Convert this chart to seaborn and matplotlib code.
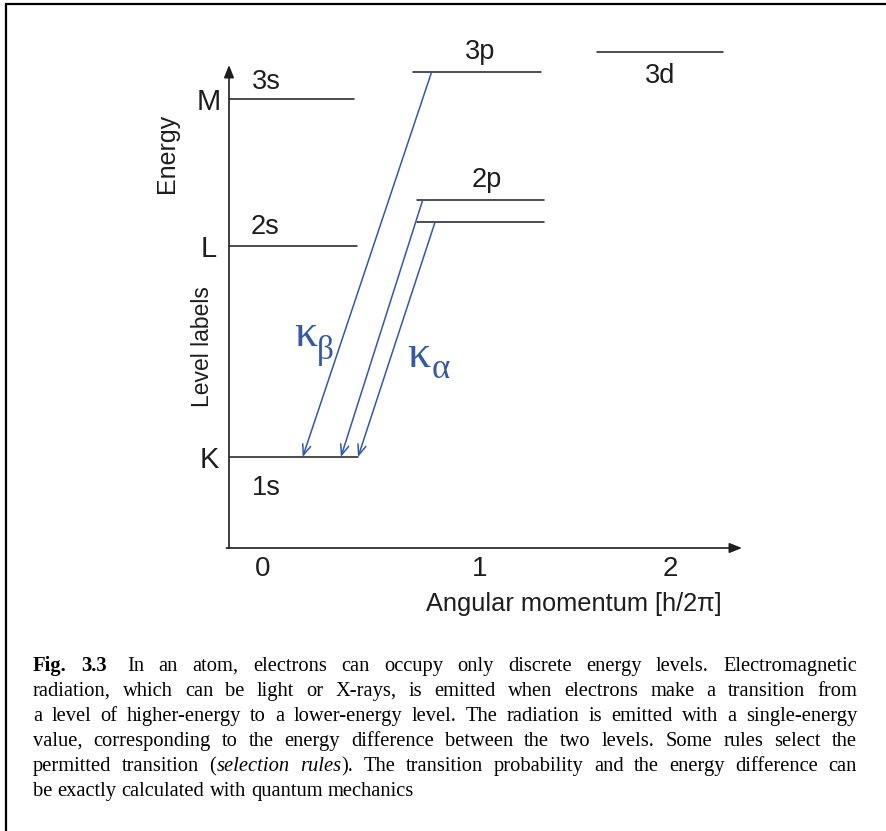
import re
import matplotlib
matplotlib.use("Agg")
import matplotlib.pyplot as plt
import numpy as np
import pandas as pd
import seaborn as sns

# ---- energy levels (angular momentum position, energy in arbitrary units) ----
level_keys = ["1s", "2s", "2p_1/2", "2p_3/2", "3s", "3p", "3d"]
level_energy = [91, 302, 326, 348, 449, 476, 496]
level_l_start = [-0.157, -0.157, 0.708, 0.708, -0.157, 0.691, 1.539]
level_l_end = [0.438, 0.432, 1.295, 1.295, 0.419, 1.281, 2.120]

# level names written next to the lines
level_label_text = ["1s", "2s", "2p", "3s", "3p", "3d"]
level_label_of = ["1s", "2s", "2p_3/2", "3s", "3p", "3d"]

# shells on the energy axis
shell_names = ["K", "L", "M"]
shell_level = ["1s", "2s", "3s"]

# angular momentum ticks
l_tick_labels = ["0", "1", "2"]
l_tick_pos = [0.0, 1.0, 1.876]

# X-ray transitions down to the K shell
trans_from = ["3p", "2p_3/2", "2p_1/2"]
trans_to = ["1s", "1s", "1s"]
trans_l_from = [0.777, 0.736, 0.793]
trans_l_to = [0.183, 0.359, 0.438]

caption_lines = [
    "**Fig. 3.3**  In an atom, electrons can occupy only discrete energy levels. Electromagnetic",
    "radiation, which can be light or X-rays, is emitted when electrons make a transition from",
    "a level of higher-energy to a lower-energy level. The radiation is emitted with a single-energy",
    "value, corresponding to the energy difference between the two levels. Some rules select the",
    "permitted transition (*selection rules*). The transition probability and the energy difference can",
    "be exactly calculated with quantum mechanics",
]

INK = "#1e1e1e"
BLUE = "#3457ae"

sns.set_theme(style="white")
plt.rcParams["font.family"] = ["Liberation Sans", "DejaVu Sans"]
plt.rcParams["text.color"] = INK
plt.rcParams["xtick.color"] = INK
plt.rcParams["ytick.color"] = INK

W, H = 886, 831
fig = plt.figure(figsize=(W / 100, H / 100), dpi=100)
fig.patch.set_facecolor("white")


def px_box(x0, y0, x1, y1):
    return [x0 / W, 1 - y1 / H, (x1 - x0) / W, (y1 - y0) / H]


# overlay in pixel units for frame, free labels and caption
ov = fig.add_axes([0, 0, 1, 1], zorder=0)
ov.set_xlim(0, W)
ov.set_ylim(H, 0)
ov.axis("off")

# frame (top and left edges)
ov.plot([6, 6, W], [H, 4, 4], color="black", lw=1.6, solid_joinstyle="miter",
        solid_capstyle="projecting", clip_on=False)

# ---- diagram axes ----
ax = fig.add_axes(px_box(229, 40, 742, 548), zorder=2)
ax.patch.set_alpha(0)
xmin, xmax = -0.1567, 2.2074
ax.set_xlim(xmin, xmax)
ax.set_ylim(0, 508)
for s in ax.spines.values():
    s.set_visible(False)

E = dict(zip(level_keys, level_energy))

rows = []
for k, e, a, b in zip(level_keys, level_energy, level_l_start, level_l_end):
    rows.append({"level": k, "l": a, "E": e})
    rows.append({"level": k, "l": b, "E": e})
levels = pd.DataFrame(rows)
sns.lineplot(data=levels, x="l", y="E", units="level", estimator=None, sort=False,
             color="#262626", linewidth=1.15, legend=False, ax=ax)
ax.set_xlabel("")
ax.set_ylabel("")

# coordinate axes with arrow heads
ax.annotate("", xy=(xmax, 0), xytext=(xmin - 0.012, 0), xycoords="data",
            arrowprops=dict(arrowstyle="-|>,head_length=0.75,head_width=0.3",
                            color=INK, lw=1.2, shrinkA=0, shrinkB=0, mutation_scale=10),
            annotation_clip=False)
ax.annotate("", xy=(xmin, 483), xytext=(xmin, 0), xycoords="data",
            arrowprops=dict(arrowstyle="-|>,head_length=0.75,head_width=0.3",
                            color=INK, lw=1.2, shrinkA=0, shrinkB=0, mutation_scale=10),
            annotation_clip=False)

# ticks
ax.set_xticks(l_tick_pos, l_tick_labels)
ax.tick_params(axis="x", length=0, pad=6, labelsize=20)
ax.set_yticks([E[k] for k in shell_level], shell_names)
ax.tick_params(axis="y", length=0, pad=14.4, labelsize=21)
for t in ax.get_yticklabels():
    t.set_ha("center")
ax.get_yticklabels()[0].set_y(E["1s"] + 4)

# level names
label_pos = {
    "1s": (0.014, 60),
    "2s": (0.009, 321),
    "2p_3/2": (1.032, 368),
    "3s": (0.014, 466),
    "3p": (1.000, 496),
    "3d": (1.829, 472),
}
for txt, key in zip(level_label_text, level_label_of):
    x, y = label_pos[key]
    ax.text(x, y, txt, ha="center", va="center", fontsize=19.5, color=INK)

# transitions
for f, t, lf, lt in zip(trans_from, trans_to, trans_l_from, trans_l_to):
    ax.annotate("", xy=(lt, E[t]), xytext=(lf, E[f]), xycoords="data",
                arrowprops=dict(arrowstyle="->,head_length=0.75,head_width=0.3",
                                color=BLUE, lw=1.1, shrinkA=0, shrinkB=0,
                                mutation_scale=10))

serif = ["Liberation Serif", "DejaVu Serif"]
ax.text(0.196, 213, "κ", ha="center", va="center", fontsize=33, color=BLUE, family=serif)
ax.text(0.288, 198, "β", ha="center", va="center", fontsize=24, color=BLUE, family=serif)
ax.text(0.717, 192, "κ", ha="center", va="center", fontsize=33, color=BLUE, family=serif)
ax.text(0.818, 178, "α", ha="center", va="center", fontsize=25, color=BLUE, family=serif)

# axis titles
ov.text(167, 153, "Energy", rotation=90, ha="center", va="center", fontsize=18)
ov.text(203, 347, "Level labels", rotation=90, ha="center", va="center", fontsize=16.5)
ov.text(573.5, 604, "Angular momentum [h/2π]", ha="center", va="center", fontsize=18.3)

# ---- justified caption ----
renderer = fig.canvas.get_renderer()
CAP_SIZE = 14.8
styles = {
    "normal": dict(weight="normal", style="normal"),
    "bold": dict(weight="bold", style="normal"),
    "italic": dict(weight="normal", style="italic"),
}


def parse(line):
    segs = []
    for m in re.finditer(r"\*\*(.+?)\*\*|\*(.+?)\*|([^*]+)", line):
        if m.group(1):
            segs.append((m.group(1), "bold"))
        elif m.group(2):
            segs.append((m.group(2), "italic"))
        else:
            segs.append((m.group(3), "normal"))
    words = [[]]
    for text, st in segs:
        parts = text.split(" ")
        for i, p in enumerate(parts):
            if i > 0:
                words.append([])
            if p:
                words[-1].append((p, st))
    return [w for w in words if w]


left, right = 33, 857
for i, line in enumerate(caption_lines):
    y = 671 + 25 * i
    words = parse(line)
    placed = []
    widths = []
    for w in words:
        items = []
        wsum = 0
        for text, st in w:
            t = ov.text(0, y, text, fontsize=CAP_SIZE, family=serif, va="baseline",
                        ha="left", color="black", **styles[st])
            tw = t.get_window_extent(renderer).width
            items.append((t, tw))
            wsum += tw
        placed.append(items)
        widths.append(wsum)
    extra = [6 if (w[-1][1] == "bold" and j + 1 < len(words) and words[j + 1][0][1] != "bold") else 0
             for j, w in enumerate(words)]
    last = i == len(caption_lines) - 1
    if last:
        gap = CAP_SIZE * 0.25 * 100 / 72
    else:
        gap = (right - left - sum(widths) - sum(extra)) / (len(words) - 1)
    x = left
    for j, items in enumerate(placed):
        for t, tw in items:
            t.set_x(x)
            x += tw
        x += gap + extra[j]

fig.savefig("out.png", dpi=100, facecolor="white")
